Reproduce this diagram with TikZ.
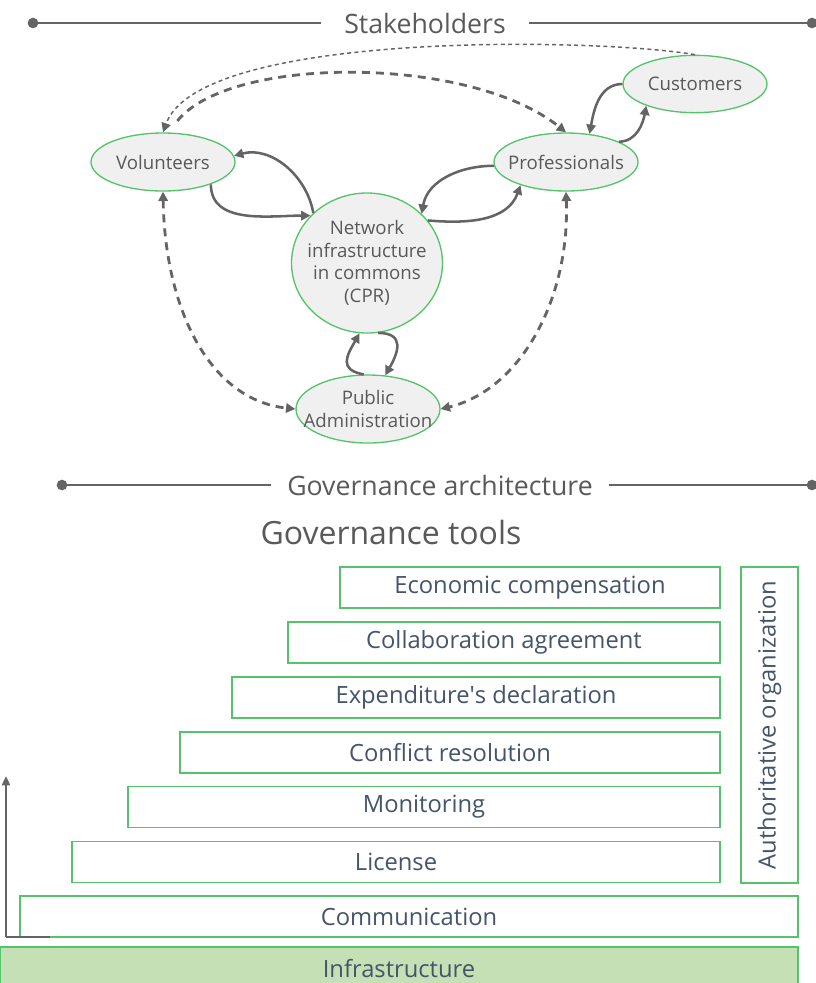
\documentclass[tikz,border=0pt]{standalone}
\usepackage{fontspec}
\setmainfont{Open Sans}
\usetikzlibrary{arrows.meta,
                shapes.geometric}
\usetikzlibrary{calc}

\definecolor{linegray}{RGB}{100,100,100}
\definecolor{textgray}{RGB}{89,89,89}
\definecolor{boxtext}{RGB}{68,84,106}
\definecolor{boxgreen}{RGB}{84,196,108}
\definecolor{nodefill}{RGB}{240,240,240}
\definecolor{infragreen}{RGB}{197,224,180}

\tikzset{
    actor/.style={ellipse, draw=boxgreen, fill=nodefill, line width=1pt,
        inner sep=0pt},
    actortext/.style={text=textgray, inner sep=0pt, align=center,
        font=\fontsize{14}{17}\selectfont},
    header/.style={text=textgray, font=\fontsize{20}{24}\selectfont},
    toolbox/.style={rectangle, draw=boxgreen, fill=white, line width=1pt,
        text=boxtext, inner sep=0pt, minimum height=30.75pt,
        font=\fontsize{17.8}{21}\selectfont},
    flow/.style={draw=linegray, line width=1.9pt, -{Triangle[length=7pt,width=7pt]}},
    link/.style={draw=linegray, line width=2.1pt, dash pattern=on 6pt off 4.5pt,
        -{Triangle[length=7pt,width=7pt]}},
    weaklink/.style={draw=linegray, line width=1.1pt, dash pattern=on 3pt off 2.5pt,
        -{Triangle[length=7pt,width=7pt]}},
}

\begin{document}
\begin{tikzpicture}[x=0.75pt, y=-0.75pt]
    % Keep the page at the size of the reference
    \useasboundingbox (0,0) rectangle (816,983);

    % Section header: stakeholders
    \node[header, inner xsep=17pt] (stake) at (425,23) {Stakeholders};
    \coordinate (stakeL) at (33,23);
    \coordinate (stakeR) at (812,23);
    \draw[linegray, line width=2.2pt] (stakeL) -- (stake.west);
    \draw[linegray, line width=2.2pt] (stake.east) -- (stakeR);
    \fill[linegray] (stakeL) circle (4pt);
    \fill[linegray] (stakeR) circle (4pt);

    % The actors (text set as a centred label so it may overrun the outline)
    \node[actor, minimum width=108pt, minimum height=43pt,
        label={[actortext]center:Customers}] (customers) at (695,84) {};
    \node[actor, minimum width=108pt, minimum height=43.5pt,
        label={[actortext]center:Volunteers}] (volunteers) at (163,162) {};
    \node[actor, minimum width=108pt, minimum height=43.5pt,
        label={[actortext]center:Professionals}] (professionals) at (566,162) {};
    \node[actor, minimum width=113.25pt, minimum height=105pt,
        label={[actortext]center:Network\\infrastructure\\in commons\\(CPR)}] (cpr) at (367,263) {};
    \node[actor, minimum width=108pt, minimum height=51pt,
        label={[actortext]center:Public\\Administration}] (pubadm) at (368,409) {};

    % Dashed relations between actors
    \draw[weaklink] (customers.north) .. controls (600,38) and (200,30) .. (volunteers.north);
    \draw[link, shorten <=11pt] (volunteers.80) .. controls (230,55) and (470,55) .. (professionals.north);
    \draw[link, {Triangle[length=7pt,width=7pt]}-{Triangle[length=7pt,width=7pt]}]
        (volunteers.south) .. controls (165,310) and (210,400) .. (pubadm.west);
    \draw[link, {Triangle[length=7pt,width=7pt]}-{Triangle[length=7pt,width=7pt]}]
        (professionals.south) .. controls (570,300) and (520,390) .. (pubadm.east);

    % Solid flows to and from the commons
    \draw[flow] (volunteers.-25) to[out=-90, in=180] (cpr.140);
    \draw[flow] (cpr.137) to[out=100, in=15] (volunteers.5);
    \draw[flow] (professionals.183) to[out=180, in=80] (cpr.42);
    \draw[flow] (cpr.35) to[out=-5, in=-110] (professionals.-153);
    \draw[flow] (customers.west) to[out=180, in=80] (professionals.50);
    \draw[flow] (professionals.21) to[out=0, in=-100] (customers.-156);
    \draw[flow] (pubadm.97) to[out=170, in=240, looseness=1.6] (cpr.-96);
    \draw[flow] (cpr.-81) to[out=0, in=60, looseness=1.6] (pubadm.63);

    % Section header: governance
    \node[header, inner xsep=12pt] (govarch) at (440,485) {Governance architecture};
    \coordinate (govL) at (62,485);
    \coordinate (govR) at (812,485);
    \draw[linegray, line width=2.2pt] (govL) -- (govarch.west);
    \draw[linegray, line width=2.2pt] (govarch.east) -- (govR);
    \fill[linegray] (govL) circle (4pt);
    \fill[linegray] (govR) circle (4pt);

    \node[text=textgray, font=\fontsize{24}{28}\selectfont] (govtools) at (391,532) {Governance tools};

    % The stair of governance tools
    \node[toolbox, minimum width=285pt] (econ) at (530,587.5) {Economic compensation};
    \node[toolbox, minimum width=324pt] (collab) at (504,642.5) {Collaboration agreement};
    \node[toolbox, minimum width=366pt] (expend) at (476,697.5) {Expenditure\textquotesingle s declaration};
    \node[toolbox, minimum width=405pt] (conflict) at (450,752.5) {Conflict resolution};
    \node[toolbox, minimum width=444pt] (monitor) at (424,807) {Monitoring};
    \node[toolbox, minimum width=486pt] (license) at (396,862) {License};
    \node[toolbox, minimum width=583.5pt] (comm) at (409,916.5) {Communication};
    \node[toolbox, fill=infragreen, minimum width=598.5pt, minimum height=32.25pt] (infra) at (399,968.5) {Infrastructure};
    \node[toolbox, rotate=90, minimum width=237pt, minimum height=42.75pt] (auth) at (769.5,725) {Authoritative organization};

    % Axis on the left
    \coordinate (origin) at (6,937);
    \coordinate (axtop) at (6,776);
    \coordinate (axright) at (50,937);
    \draw[linegray, line width=2.2pt, -{Triangle[length=7pt,width=6pt]}] (origin) -- (axtop);
    \draw[linegray, line width=2.2pt] (origin) -- (axright);
\end{tikzpicture}
\end{document}
